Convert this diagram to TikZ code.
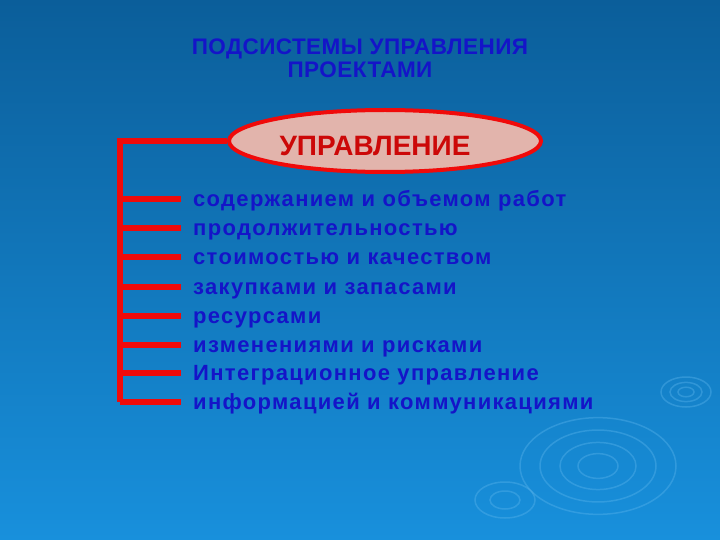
\documentclass[tikz,border=0pt]{standalone}
\usepackage{fontspec}
\setmainfont{Liberation Sans}
\usetikzlibrary{shapes.geometric}
\definecolor{bgtop}{HTML}{0B5E9A}
\definecolor{bgbot}{HTML}{1890DC}
\definecolor{txtblue}{HTML}{1414C8}
\definecolor{linered}{HTML}{F00A0A}
\definecolor{ellfill}{HTML}{E2B4AC}
\definecolor{ripple}{HTML}{5AB4EC}
\tikzset{
  item/.style={anchor=base west, text=txtblue, font=\bfseries\fontsize{22}{24}\selectfont, inner sep=0pt},
  branch/.style={draw=linered, line width=5.5pt},
  rip/.style={draw=ripple, opacity=0.4, line width=1.5pt}
}
\begin{document}
\begin{tikzpicture}[x=1pt,y=-1pt]
\useasboundingbox (0,0) rectangle (720,540);
\shade[top color=bgtop, bottom color=bgbot] (0,0) rectangle (720,540);
% ripples
\foreach \r in {20,38,58,78} \draw[rip] (598,466) ellipse ({\r} and {0.62*\r});
\foreach \r in {8,16,25} \draw[rip] (686,392) ellipse ({\r} and {0.6*\r});
\foreach \r in {15,30} \draw[rip] (505,500) ellipse ({\r} and {0.6*\r});
% title
\node[text=txtblue, font=\bfseries\fontsize{22.5}{23}\selectfont, align=center] (title) at (360,58) {\addfontfeature{LetterSpace=2}ПОДСИСТЕМЫ УПРАВЛЕНИЯ\\\addfontfeature{LetterSpace=2}ПРОЕКТАМИ};
% central ellipse
\node[ellipse, draw=linered, line width=4pt, fill=ellfill, minimum width=312pt, minimum height=62pt, inner sep=0pt] (ctl) at (385,141) {};
\node[text=linered!85!black, font=\bfseries\fontsize{28}{30}\selectfont] (ctltxt) at (375,146) {УПРАВЛЕНИЕ};
\coordinate (corner) at (120,141);
\coordinate (bottom) at (120,402);
\draw[branch] (ctl.west) -- (corner) -- (bottom);
\foreach \y/\t [count=\i] in {
  199/{содержанием и объемом работ},
  228/{продолжительностью},
  257/{стоимостью и качеством},
  287/{закупками и запасами},
  316/{ресурсами},
  345/{изменениями и рисками},
  373/{Интеграционное управление},
  402/{информацией и коммуникациями}} {
  \node[item] (it\i) at (193,\y+7.5) {\addfontfeature{LetterSpace=6}\t};
  \coordinate (b\i) at (120,\y);
  \draw[branch] (b\i) -- (181,\y);
}
\end{tikzpicture}
\end{document}
